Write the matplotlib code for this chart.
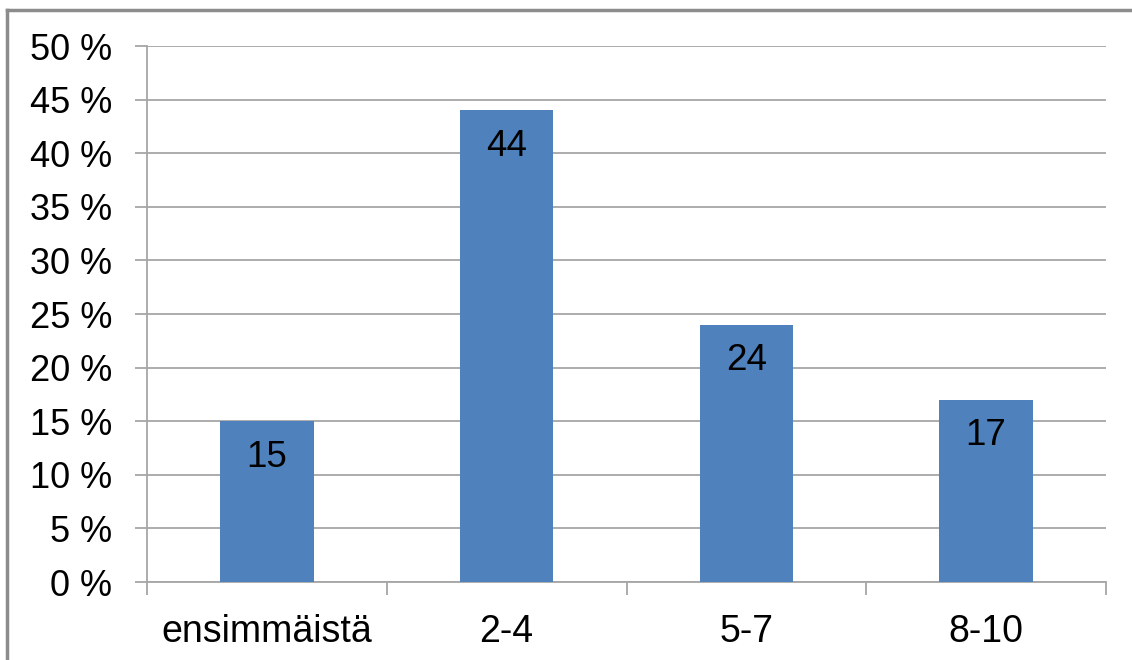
import matplotlib.pyplot as plt
from matplotlib.lines import Line2D

# share of answers per group, in percent
categories = ['ensimmäistä', '2-4', '5-7', '8-10']
values = [15, 44, 24, 17]
y_ticks = [0, 5, 10, 15, 20, 25, 30, 35, 40, 45, 50]

plt.rcParams['font.family'] = ['Liberation Sans', 'DejaVu Sans']

fig = plt.figure(figsize=(11.32, 6.6), dpi=100)
ax = fig.add_axes([147 / 1132, 1 - 582 / 660, (1106 - 147) / 1132, (582 - 46) / 660])

# gray frame on the top and left edge of the chart
fx, fy = 7 / 1132, 1 - 10 / 660
fig.add_artist(Line2D([fx, 1], [fy, fy], transform=fig.transFigure,
                      color='#8c8c8c', linewidth=2.5))
fig.add_artist(Line2D([fx, fx], [0, fy], transform=fig.transFigure,
                      color='#8c8c8c', linewidth=2.5))

x = range(len(categories))
ax.bar(x, values, width=0.39, color='#4F81BD', zorder=3)

for xi, v in zip(x, values):
    ax.annotate(str(v), (xi, v), xytext=(0, -26), textcoords='offset points',
                ha='center', va='center', fontsize=26.5, zorder=4)

ax.set_xlim(-0.5, len(categories) - 0.5)
ax.set_ylim(0, 50)
ax.set_yticks(y_ticks)
ax.set_yticklabels([f'{t} %' for t in y_ticks], fontsize=26)
ax.yaxis.grid(True, color='#a6a6a6', linewidth=1.3, zorder=0)
ax.tick_params(axis='y', length=9, color='#a6a6a6', width=1.3, pad=16)

# category labels centred, tick marks on the boundaries
ax.set_xticks([i + 0.5 for i in range(-1, len(categories))], minor=False)
ax.set_xticklabels([])
ax.set_xticks(list(x), minor=True)
ax.set_xticklabels(categories, minor=True, fontsize=27)
ax.tick_params(axis='x', which='major', length=9, color='#a6a6a6', width=1.3)
ax.tick_params(axis='x', which='minor', length=0, pad=23)

for side in ['top', 'right']:
    ax.spines[side].set_visible(False)
for side in ['left', 'bottom']:
    ax.spines[side].set_color('#a6a6a6')
    ax.spines[side].set_linewidth(1.3)

fig.savefig('out.png', dpi=100)
